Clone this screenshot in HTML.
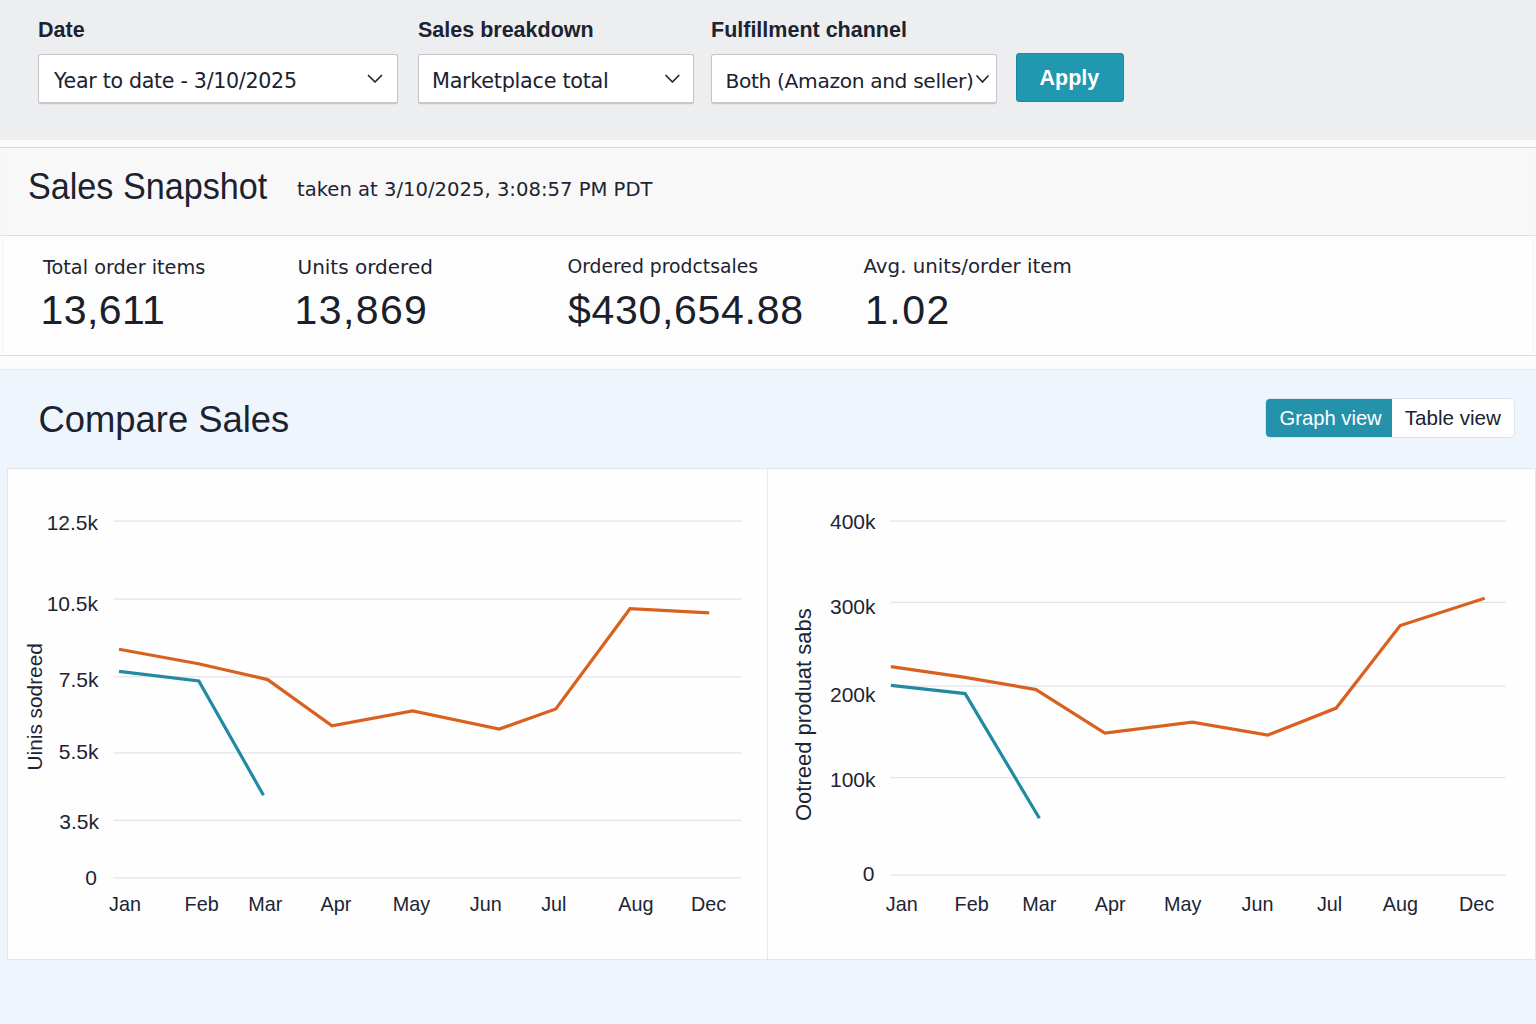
<!DOCTYPE html>
<html>
<head>
<meta charset="utf-8">
<style>
html,body{margin:0;padding:0}
body{width:1536px;height:1024px;overflow:hidden;position:relative;background:#eef5fc;font-family:"Liberation Sans",sans-serif;color:#1b2230}
.a{position:absolute;white-space:nowrap;line-height:1}
.dv{font-family:"DejaVu Sans","Liberation Sans",sans-serif}
#top{position:absolute;left:0;top:0;width:1536px;height:140px;background:#edeef0}
#strip{position:absolute;left:0;top:140px;width:1536px;height:7px;background:#fbfbfb}
#snaphead{position:absolute;left:0;top:147px;width:1536px;height:87px;background:#f8f8f8;border-top:1px solid #dadada;border-bottom:1px solid #e0e0e0}
#metrics{position:absolute;left:0;top:236px;width:1536px;height:119px;background:#fdfdfd;border-bottom:1px solid #dcdcdc}
#strip2{position:absolute;left:0;top:356px;width:1536px;height:13px;background:#fcfcfd;border-bottom:1.5px solid #e5e9ed}
.lbl{font-weight:700;font-size:21.5px;color:#1c2331}
.box{position:absolute;top:54px;height:46.6px;background:#fff;border:1px solid #c3c5ca;border-bottom:2px solid #c6c7cb;border-radius:3px;box-shadow:0 1px 1px rgba(0,0,0,0.04)}
.sel{font-size:19.7px;color:#1b2230}
#apply{position:absolute;left:1016px;top:53px;width:105.5px;height:47px;background:#2297b0;border:1px solid #1d8aa2;border-radius:3px}
.ml{font-size:19.3px;color:#1d2432}
.mv{font-size:41px;color:#19202c}
#toggle{position:absolute;left:1265px;top:398px;width:248px;height:38px;border:1px solid #dfe3e8;border-radius:5px;background:#fff;overflow:hidden}
#gv{position:absolute;left:0;top:0;width:126px;height:38px;background:#2492ab}
#panels{position:absolute;left:7px;top:468px;width:1527px;height:490px;background:#fefefe;border:1px solid #e1e6eb}
#divider{position:absolute;left:767px;top:469px;width:1px;height:490px;background:#e6e8eb}
svg{position:absolute;left:0;top:0}
</style>
</head>
<body>
<div id="top"></div>
<div id="strip"></div>
<div id="snaphead"></div>
<div id="metrics"></div>
<div id="strip2"></div>
<div style="position:absolute;left:2px;top:148px;width:1px;height:207px;background:#f4f4f4"></div>
<div style="position:absolute;left:1533px;top:148px;width:1px;height:207px;background:#f4f4f4"></div>

<!-- filter labels -->
<div class="a lbl" style="left:38px;top:20.2px">Date</div>
<div class="a lbl" style="left:418px;top:20.2px">Sales breakdown</div>
<div class="a lbl" style="left:711px;top:20.2px">Fulfillment channel</div>

<div class="box" style="left:38px;width:358px"></div>
<div class="box" style="left:418px;width:274px"></div>
<div class="box" style="left:711px;width:284px"></div>
<div class="a dv sel" style="left:54px;top:70.6px;font-size:20.6px;letter-spacing:-0.3px">Year to date - 3/10/2025</div>
<div class="a dv sel" style="left:432px;top:70.6px;font-size:20.8px;letter-spacing:-0.3px">Marketplace total</div>
<div class="a dv sel" style="left:725.5px;top:71.2px;font-size:20.2px;letter-spacing:-0.35px">Both (Amazon and seller)</div>
<div id="apply"></div>
<div class="a" style="left:1039.5px;top:67.6px;font-size:21.5px;font-weight:700;color:#fff">Apply</div>

<!-- snapshot -->
<div class="a" style="left:28.2px;top:167.6px;font-size:37px;color:#1b2230;transform:scaleX(0.923);transform-origin:0 0">Sales Snapshot</div>
<div class="a dv" style="left:297px;top:180.1px;font-size:19.6px;color:#1d2432">taken at 3/10/2025, 3:08:57 PM PDT</div>

<div class="a dv ml" style="left:43px;top:257.5px">Total order items</div>
<div class="a dv ml" style="left:297.5px;top:256.9px;font-size:20px">Units ordered</div>
<div class="a dv ml" style="left:567.4px;top:257.9px;font-size:18.8px">Ordered prodctsales</div>
<div class="a dv ml" style="left:863.5px;top:257px;font-size:19.8px">Avg. units/order item</div>
<div class="a mv" style="left:40.5px;top:289.5px;letter-spacing:0.4px">13,611</div>
<div class="a mv" style="left:294.5px;top:289.5px;letter-spacing:1.4px">13,869</div>
<div class="a mv" style="left:568px;top:289.5px;letter-spacing:0.7px">$430,654.88</div>
<div class="a mv" style="left:865px;top:289.5px;letter-spacing:1.5px">1.02</div>

<!-- compare -->
<div class="a" style="left:38.5px;top:401.8px;font-size:36.4px;color:#1b2230">Compare Sales</div>
<div id="toggle"><div id="gv"></div></div>
<div class="a" style="left:1279.6px;top:407.9px;font-size:20.2px;color:#fff">Graph view</div>
<div class="a" style="left:1404.8px;top:407.9px;font-size:20.6px;color:#1b2230">Table view</div>

<div id="panels"></div>
<div id="divider"></div>

<svg width="1536" height="1024" viewBox="0 0 1536 1024">
<g stroke="#e0e3e7" stroke-width="1.25">
<line x1="113.4" y1="521.1" x2="741.4" y2="521.1"/>
<line x1="113.4" y1="599" x2="741.4" y2="599"/>
<line x1="113.4" y1="676.9" x2="741.4" y2="676.9"/>
<line x1="113.4" y1="752.8" x2="741.4" y2="752.8"/>
<line x1="113.4" y1="820.3" x2="741.4" y2="820.3"/>
<line x1="113.4" y1="877.9" x2="741.4" y2="877.9"/>
<line x1="890.6" y1="521" x2="1505.7" y2="521"/>
<line x1="890.6" y1="602.4" x2="1505.7" y2="602.4"/>
<line x1="890.6" y1="686" x2="1505.7" y2="686"/>
<line x1="890.6" y1="777.7" x2="1505.7" y2="777.7"/>
<line x1="890.6" y1="875.1" x2="1505.7" y2="875.1"/>
</g>
<g font-family="Liberation Sans, sans-serif" font-size="21" fill="#1d2432" text-anchor="end" transform="translate(0 0)">
<text x="98" y="529.7">12.5k</text>
<text x="98" y="610.9">10.5k</text>
<text x="98.5" y="686.5">7.5k</text>
<text x="98.5" y="759.1">5.5k</text>
<text x="99" y="828.9">3.5k</text>
<text x="97" y="885.2">0</text>
<text x="875.5" y="529">400k</text>
<text x="875.5" y="613.9">300k</text>
<text x="875.5" y="702">200k</text>
<text x="875.5" y="787">100k</text>
<text x="874.5" y="880.5">0</text>
</g>
<g font-family="Liberation Sans, sans-serif" font-size="19.8" fill="#1d2432" text-anchor="middle" transform="translate(0 1)">
<text x="125" y="910.1">Jan</text>
<text x="201.6" y="910.1">Feb</text>
<text x="265.2" y="910.1">Mar</text>
<text x="336" y="910.1">Apr</text>
<text x="411.4" y="910.1">May</text>
<text x="485.8" y="910.1">Jun</text>
<text x="553.8" y="910.1">Jul</text>
<text x="635.8" y="910.1">Aug</text>
<text x="708.5" y="910.1">Dec</text>
<text x="901.7" y="910.1">Jan</text>
<text x="971.6" y="910.1">Feb</text>
<text x="1039.4" y="910.1">Mar</text>
<text x="1110.2" y="910.1">Apr</text>
<text x="1182.7" y="910.1">May</text>
<text x="1257.5" y="910.1">Jun</text>
<text x="1329.6" y="910.1">Jul</text>
<text x="1400.4" y="910.1">Aug</text>
<text x="1476.5" y="910.1">Dec</text>
</g>
<g font-family="Liberation Sans, sans-serif" font-size="20.3" fill="#1d2432">
<text transform="translate(41.5 770.4) rotate(-90)" font-size="20.8">Uinis sodreed</text>
<text transform="translate(811 821) rotate(-90)" font-size="22">Ootreed produat sabs</text>
</g>
<g fill="none" stroke-width="3.2" stroke-linejoin="miter" stroke-linecap="butt">
<polyline stroke="#d9611f" points="119,649.3 198.4,663.7 267.6,679.6 332,725.8 412.7,711 499.2,729.1 555.8,709 630,608.7 709.2,612.9"/>
<polyline stroke="#2289a2" points="119,671.3 198.8,681 263.5,795.2"/>
<polyline stroke="#d9611f" points="890.9,666.6 965.1,677.3 1036,689.6 1104.8,733 1192.2,722.2 1267.9,735 1336.2,708.1 1400.2,625.5 1484.7,598.2"/>
<polyline stroke="#2289a2" points="890.9,685.3 965.1,693.6 1039.4,818.3"/>
</g>
<!-- chevrons -->
<g fill="none" stroke="#1f2633" stroke-width="1.7" stroke-linecap="round" stroke-linejoin="round">
<polyline points="368.5,75.5 375,82 381.5,75.5"/>
<polyline points="666,75.5 672.4,82 678.8,75.5"/>
<polyline points="977,76 982.5,82 988,76"/>
</g>
</svg>
</body>
</html>
